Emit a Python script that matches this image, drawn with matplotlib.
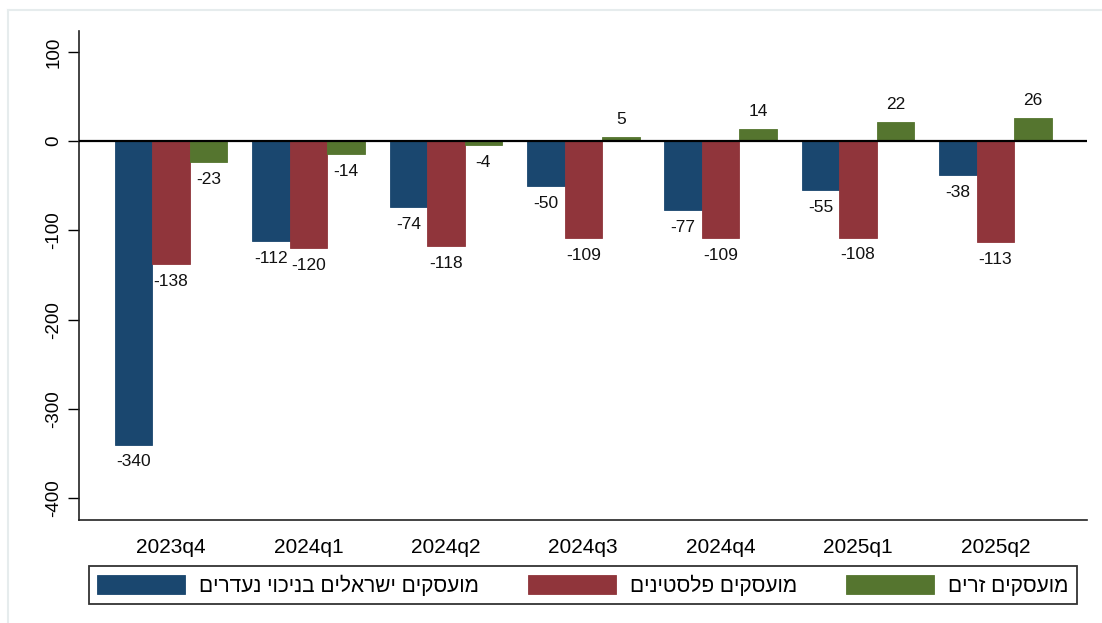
import matplotlib
matplotlib.use("Agg")
import matplotlib.pyplot as plt
import numpy as np
from matplotlib.lines import Line2D

plt.rcParams['font.family'] = ['Liberation Sans', 'DejaVu Sans']

categories = ["2023q4", "2024q1", "2024q2", "2024q3", "2024q4", "2025q1", "2025q2"]
israeli = [-340, -112, -74, -50, -77, -55, -38]
palestinian = [-138, -120, -118, -109, -109, -108, -113]
foreign = [-23, -14, -4, 5, 14, 22, 26]
series_names = ["מועסקים ישראלים בניכוי נעדרים", "מועסקים פלסטינים", "מועסקים זרים"]
colors = ["#1a476f", "#90353b", "#55752f"]
yticks = [100, 0, -100, -200, -300, -400]


def visual(s):
    # matplotlib has no bidi support: put Hebrew in visual order
    return s[::-1]


fig = plt.figure(figsize=(11.02, 6.23), dpi=100)
ax = fig.add_axes([79 / 1102, 1 - 520 / 623, (1087 - 79) / 1102, (520 - 31) / 623])

x = np.arange(len(categories))
w = 0.273
series = [israeli, palestinian, foreign]
handles = []
for i, (vals, col, name) in enumerate(zip(series, colors, series_names)):
    pos = x + (i - 1) * w
    bars = ax.bar(pos, vals, width=w, color=col, edgecolor=col, linewidth=0.6,
                  label=visual(name), zorder=2)
    handles.append(bars)
    for px, v in zip(pos, vals):
        off = 12.5 if v > 0 else -12.5
        ax.annotate(f"{v}", (px, v), xytext=(0, off), textcoords="offset points",
                    ha="center", va="center", fontsize=12.5, color="#111111")

ax.axhline(0, color="black", linewidth=1.6, zorder=3)
ax.set_xlim(-0.67, 6.666)
ax.set_ylim(-424.6, 123.5)
ax.set_yticks(yticks)
ax.set_yticklabels([str(t) for t in yticks], rotation=90, va="center", fontsize=13.5)
ax.set_xticks(x)
ax.set_xticklabels(categories, fontsize=15)
ax.tick_params(axis="x", length=0, pad=13)
ax.tick_params(axis="y", length=8, width=1.0, pad=4)
for s in ["top", "right"]:
    ax.spines[s].set_visible(False)
for s in ["left", "bottom"]:
    ax.spines[s].set_linewidth(1.2)
    ax.spines[s].set_color("#222222")

leg = fig.legend(handles=handles, loc="lower left",
                 bbox_to_anchor=(89 / 1102, 1 - 604 / 623, 988 / 1102, 41 / 623),
                 mode="expand", ncol=3, fontsize=15, frameon=True, fancybox=False,
                 edgecolor="black", handlelength=4.2, handleheight=1.05,
                 handletextpad=0.7, borderaxespad=0, borderpad=0.4)
leg.get_frame().set_linewidth(1.3)

# faint outer frame
fig.add_artist(Line2D([8 / 1102, 8 / 1102], [0, 1 - 10 / 623], transform=fig.transFigure,
                      color="#e6eced", linewidth=1.5))
fig.add_artist(Line2D([8 / 1102, 1], [1 - 10 / 623, 1 - 10 / 623], transform=fig.transFigure,
                      color="#e6eced", linewidth=1.5))

fig.savefig("out.png", dpi=100)
